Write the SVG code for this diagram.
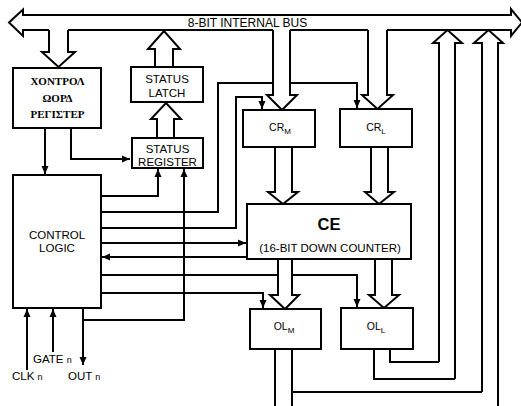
<svg xmlns="http://www.w3.org/2000/svg" width="521" height="406" viewBox="0 0 521 406">
<style>
.bx{fill:#fff;stroke:#000;stroke-width:2}
.ln{fill:none;stroke:#000;stroke-width:2}
.ha{fill:#fff;stroke:none}
.ho{fill:none;stroke:#000;stroke-width:2;stroke-linejoin:miter}
.t{font-family:"Liberation Sans",Arial,sans-serif;font-size:11.5px;text-anchor:middle;fill:#000}
.g{font-family:"Liberation Serif","Times New Roman",serif;font-size:11px;font-weight:bold;text-anchor:middle;fill:#000}
.l{font-family:"Liberation Sans",Arial,sans-serif;font-size:11.5px;fill:#000}
.s{font-size:10.5px}
.sub{font-size:8px}
.n{font-size:9px}
</style>
<defs>
<marker id="ah" markerUnits="userSpaceOnUse" markerWidth="9" markerHeight="8" refX="8" refY="4" orient="auto">
<path d="M0,0.5 L8,4 L0,7.5 z" fill="#000"/>
</marker>
</defs>
<rect width="521" height="406" fill="#fff"/>

<g id="bus">
<path class="bx" d="M9,22.5 L23,9.5 L23,15 L511,15 L511,9 L522,22.5 L511,36 L511,30 L23,30 L23,36 z"/>
<text class="t" x="247.5" y="27" style="font-size:12px">8-BIT INTERNAL BUS</text>
</g>

<g id="connectors">
<path class="ln" d="M45,128 V174" marker-end="url(#ah)"/>
<path class="ln" d="M71,128 V159 H130" marker-end="url(#ah)"/>
<path class="ln" d="M101,196 H158 V169" marker-end="url(#ah)"/>
<path class="ln" d="M101,212 H218 V83 H357 V108" marker-end="url(#ah)"/>
<path class="ln" d="M101,228 H236 V97 H262 V109" marker-end="url(#ah)"/>
<path class="ln" d="M101,243 H246" marker-end="url(#ah)"/>
<path class="ln" d="M247,257 H102" marker-end="url(#ah)"/>
<path class="ln" d="M101,275 H357 V307" marker-end="url(#ah)"/>
<path class="ln" d="M101,293 H263 V308" marker-end="url(#ah)"/>
<path class="ln" d="M83,308 V365" marker-end="url(#ah)"/>
<path class="ln" d="M83,320 H184 V169" marker-end="url(#ah)"/>
<path class="ln" d="M27,370 V309" marker-end="url(#ah)"/>
<path class="ln" d="M53,352 V309" marker-end="url(#ah)"/>
<path class="ln" d="M390,349 V362 H439"/>
<path class="ln" d="M374,349 V379 H455"/>
<path class="ln" d="M292,349 V406 M292,392 H482"/>
<path class="ln" d="M275,349 V406"/>

<polygon class="ha" points="49,28 68,28 68,52 75,52 58.5,67 42,52 49,52"/>
<path class="ho" d="M49,30 V52 H42 L58.5,67 L75,52 H68 V30"/>

<polygon class="ha" points="155,67 173,67 173,49 180,49 164,31 148,49 155,49"/>
<path class="ho" d="M155,67 V49 H148 L164,31 L180,49 H173 V67"/>

<polygon class="ha" points="157,138 174,138 174,119 181,119 166,103 151,119 157,119"/>
<path class="ho" d="M157,138 V119 H151 L166,103 L181,119 H174 V138"/>

<polygon class="ha" points="273,28 290,28 290,95 297,95 282,110 267,95 273,95"/>
<path class="ho" d="M273,30 V95 H267 L282,110 L297,95 H290 V30"/>

<polygon class="ha" points="368,28 387,28 387,95 393,95 377.5,109 362,95 368,95"/>
<path class="ho" d="M368,30 V95 H362 L377.5,109 L393,95 H387 V30"/>

<polygon class="ha" points="275,147 292,147 292,192 298,192 283,204 268,192 275,192"/>
<path class="ho" d="M275,147 V192 H268 L283,204 L298,192 H292 V147"/>

<polygon class="ha" points="371,147 388,147 388,192 394,192 379,204 365,192 371,192"/>
<path class="ho" d="M371,147 V192 H365 L379,204 L394,192 H388 V147"/>

<polygon class="ha" points="278,259 292,259 292,295 299,295 285,309 270,295 278,295"/>
<path class="ho" d="M278,259 V295 H270 L285,309 L299,295 H292 V259"/>

<polygon class="ha" points="375,259 392,259 392,295 399,295 384,308 369,295 375,295"/>
<path class="ho" d="M375,259 V295 H369 L384,308 L399,295 H392 V259"/>

<polygon class="ha" points="439,362 455,362 455,43 462,43 447.5,31 433,43 439,43"/>
<path class="ho" d="M439,362 V43 H433 L447.5,30 L462,43 H455 V379"/>

<polygon class="ha" points="482,392 498,392 498,43 503,43 488.5,31 474,43 482,43"/>
<path class="ho" d="M482,392 V43 H474 L488.5,30 L503,43 H498 V406"/>
</g>

<g id="cwr">
<rect class="bx" x="13" y="68" width="88" height="60"/>
<text class="g" x="57.5" y="85">ΧΟΝΤΡΟΛ</text>
<text class="g" x="57.5" y="102">ΩΟΡΔ</text>
<text class="g" x="57.5" y="118">ΡΕΓΙΣΤΕΡ</text>
</g>

<g id="status-latch">
<rect class="bx" x="131" y="67" width="72" height="35"/>
<text class="t" x="167" y="83">STATUS</text>
<text class="t" x="167" y="97">LATCH</text>
</g>

<g id="status-register">
<rect class="bx" x="132" y="138" width="71" height="30"/>
<text class="t" x="167.5" y="153">STATUS</text>
<text class="t" x="167.5" y="166">REGISTER</text>
</g>

<g id="control-logic">
<rect class="bx" x="13" y="175" width="88" height="133"/>
<text class="t" x="57" y="239">CONTROL</text>
<text class="t" x="57" y="252">LOGIC</text>
</g>

<g id="crm">
<rect class="bx" x="243" y="110" width="72" height="37"/>
<text class="t s" x="280" y="131">CR<tspan class="sub" dy="3">M</tspan></text>
</g>

<g id="crl">
<rect class="bx" x="340" y="109" width="72" height="38"/>
<text class="t s" x="376" y="131">CR<tspan class="sub" dy="3">L</tspan></text>
</g>

<g id="ce">
<rect class="bx" x="247" y="204" width="164" height="55"/>
<text class="t" x="329" y="230" style="font-size:16.5px;font-weight:bold">CE</text>
<text class="t" x="330" y="252">(16-BIT DOWN COUNTER)</text>
</g>

<g id="olm">
<rect class="bx" x="250" y="309" width="71" height="40"/>
<text class="t s" x="284" y="330">OL<tspan class="sub" dy="3">M</tspan></text>
</g>

<g id="oll">
<rect class="bx" x="341" y="308" width="72" height="41"/>
<text class="t s" x="376" y="330">OL<tspan class="sub" dy="3">L</tspan></text>
</g>

<g id="pins">
<text class="l" x="33" y="363">GATE <tspan class="n">n</tspan></text>
<text class="l" x="12" y="380">CLK <tspan class="n">n</tspan></text>
<text class="l" x="68" y="380">OUT <tspan class="n">n</tspan></text>
</g>
</svg>
